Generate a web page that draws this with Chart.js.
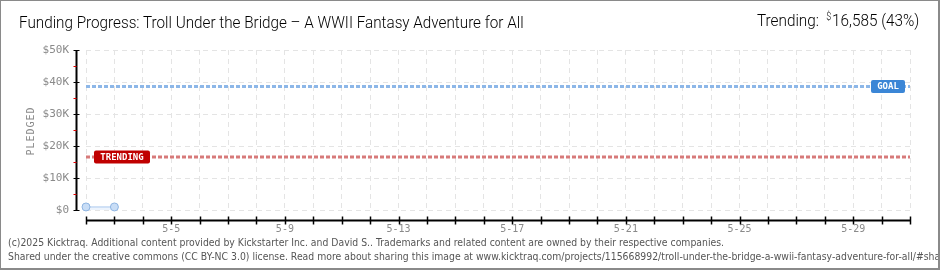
<!DOCTYPE html>
<html>
<head>
<meta charset="utf-8">
<script src="https://cdn.jsdelivr.net/npm/chart.js@4/dist/chart.umd.min.js"></script>
<style>
  html, body { margin: 0; padding: 0; background: #fff; }
  #frame { position: relative; width: 940px; height: 270px; box-sizing: border-box; border: 1px solid #8a8a8a; border-right-width: 2px; border-bottom-width: 2px; overflow: hidden; background: #fff; }
  #chart { position: absolute; left: -1px; top: -1px; }
  .title, .trend { position: absolute; font-family: Roboto, "DejaVu Sans", sans-serif; font-weight: 300; font-size: 17px; color: #000; white-space: nowrap; transform-origin: 0 0; }
  .title { left: 18px; top: 11px; }
  .trend { left: 756px; top: 9px; }
  .trend sup { font-size: 10px; vertical-align: 6px; margin-left: 8px; margin-right: 1px; }
  .foot { position: absolute; left: 7px; font-family: "DejaVu Sans", sans-serif; font-size: 10px; color: #555; white-space: nowrap; transform-origin: 0 0; }
</style>
</head>
<body>
<div id="frame">
  <canvas id="chart" width="940" height="270"></canvas>
  <div class="title" data-w="505">Funding Progress: Troll Under the Bridge – A WWII Fantasy Adventure for All</div>
  <div class="trend" data-w="162">Trending:<sup>$</sup>16,585 (43%)</div>
  <div class="foot" data-w="716" style="top:236px">(c)2025 Kicktraq. Additional content provided by Kickstarter Inc. and David S.. Trademarks and related content are owned by their respective companies.</div>
  <div class="foot" data-ref="716" style="top:250px">Shared under the creative commons (CC BY-NC 3.0) license. Read more about sharing this image at www.kicktraq.com/projects/115668992/troll-under-the-bridge-a-wwii-fantasy-adventure-for-all/#sharing</div>
</div>
<script>
// Campaign days in May and the amount pledged on each
const days = [2, 3];
const pledged = [950, 950];

// Reference levels
const goalAmount = 38600;
const trendingAmount = 16585;

// Axis extents and labelled dates
const dayRange = [2, 31];
const labeledDays = [5, 9, 13, 17, 21, 25, 29];
const yMax = 50000;
const yStep = 10000;

// Squeeze header and footer text to their set widths
let footScale = 1;
document.querySelectorAll('[data-w]').forEach(el => {
  const s = parseFloat(el.dataset.w) / el.scrollWidth;
  el.style.transform = 'scaleX(' + s + ')';
  if (el.classList.contains('foot')) footScale = s;
});
document.querySelectorAll('[data-ref]').forEach(el => {
  el.style.transform = 'scaleX(' + footScale + ')';
});

const axesPlugin = {
  id: 'kickAxes',
  afterDraw(chart) {
    const { ctx, scales: { x, y } } = chart;
    ctx.save();
    // y axis, offset left of the plot
    const ax = Math.round(x.left) - 10 + 0.5;
    ctx.strokeStyle = '#000';
    ctx.lineWidth = 2;
    ctx.beginPath();
    ctx.moveTo(ax, y.getPixelForValue(yMax));
    ctx.lineTo(ax, y.getPixelForValue(0) + 1);
    ctx.stroke();
    ctx.lineWidth = 1;
    y.ticks.forEach(t => {
      const py = Math.round(y.getPixelForValue(t.value)) + 0.5;
      ctx.strokeStyle = '#000';
      ctx.beginPath(); ctx.moveTo(ax - 3, py); ctx.lineTo(ax + 3, py); ctx.stroke();
      if (t.value < yMax) {
        const my = Math.round(y.getPixelForValue(t.value + yStep / 2)) + 0.5;
        ctx.strokeStyle = '#e00000';
        ctx.beginPath(); ctx.moveTo(ax - 3, my); ctx.lineTo(ax, my); ctx.stroke();
      }
    });
    // x axis, offset below the plot
    const ay = Math.round(y.bottom) + 10 + 0.5;
    ctx.strokeStyle = '#000';
    ctx.lineWidth = 2;
    ctx.beginPath(); ctx.moveTo(x.left, ay); ctx.lineTo(x.right + 1, ay); ctx.stroke();
    ctx.lineWidth = 1.5;
    x.ticks.forEach(t => {
      const px = Math.round(x.getPixelForValue(t.value)) + 0.5;
      ctx.beginPath(); ctx.moveTo(px, ay - 4); ctx.lineTo(px, ay + 4); ctx.stroke();
    });
    // rotated axis title
    ctx.fillStyle = '#8a8a8a';
    ctx.font = '10px "DejaVu Sans Mono"';
    ctx.translate(31, (y.top + y.bottom) / 2 + 1);
    ctx.rotate(-Math.PI / 2);
    ctx.textAlign = 'center';
    ctx.textBaseline = 'middle';
    if ('letterSpacing' in ctx) ctx.letterSpacing = '1px';
    ctx.fillText('PLEDGED', 0, 0);
    ctx.restore();

    // level tags
    const tag = (text, color, left, right, value) => {
      const py = y.getPixelForValue(value);
      ctx.save();
      ctx.font = 'bold 9px "DejaVu Sans Mono"';
      ctx.fillStyle = color;
      const h = 13;
      ctx.beginPath();
      ctx.roundRect(left, py - h / 2, right - left, h, 2);
      ctx.fill();
      ctx.fillStyle = '#fff';
      ctx.textAlign = 'center';
      ctx.textBaseline = 'middle';
      ctx.fillText(text, (left + right) / 2, py + 0.5);
      ctx.restore();
    };
    tag('GOAL', '#3b86d6', x.right - 39, x.right - 5, goalAmount);
    tag('TRENDING', '#c00000', x.left + 8, x.left + 64, trendingAmount);
  }
};

new Chart(document.getElementById('chart'), {
  type: 'line',
  data: {
    datasets: [
      {
        label: 'Goal',
        data: [{ x: dayRange[0], y: goalAmount }, { x: dayRange[1], y: goalAmount }],
        borderColor: '#8db7e8',
        borderWidth: 3,
        borderDash: [4, 2],
        pointRadius: 0,
        fill: false
      },
      {
        label: 'Trending',
        data: [{ x: dayRange[0], y: trendingAmount }, { x: dayRange[1], y: trendingAmount }],
        borderColor: '#d77a7a',
        borderWidth: 3,
        borderDash: [4, 2],
        pointRadius: 0,
        fill: false
      },
      {
        label: 'Pledged',
        data: days.map((d, i) => ({ x: d, y: pledged[i] })),
        clip: false,
        borderColor: '#a9c9ee',
        borderWidth: 1,
        backgroundColor: 'rgba(214,230,250,0.45)',
        fill: 'origin',
        pointRadius: 4,
        pointBackgroundColor: '#c8ddf6',
        pointBorderColor: '#8fb5e2',
        pointBorderWidth: 1
      }
    ]
  },
  options: {
    responsive: false,
    devicePixelRatio: 1,
    animation: false,
    layout: { padding: { left: 0, right: 30, top: 50, bottom: 0 } },
    plugins: { legend: { display: false }, tooltip: { enabled: false } },
    scales: {
      x: {
        type: 'linear',
        min: dayRange[0],
        max: dayRange[1],
        afterFit(scale) { scale.height = 60; },
        ticks: {
          stepSize: 1,
          autoSkip: false,
          maxRotation: 0,
          padding: 13,
          color: '#8a8a8a',
          font: { family: "DejaVu Sans Mono", size: 10 },
          callback: v => labeledDays.includes(v) ? '5-' + v : ''
        },
        grid: { color: '#e4e4e4', drawTicks: false },
        border: { display: false, dash: [5, 4] }
      },
      y: {
        min: 0,
        max: yMax,
        afterFit(scale) { scale.width = 86; },
        ticks: {
          stepSize: yStep,
          padding: 17,
          color: '#8a8a8a',
          font: { family: "DejaVu Sans Mono", size: 11 },
          callback: v => '$' + (v === 0 ? '0' : (v / 1000) + 'K')
        },
        grid: { color: '#e4e4e4', drawTicks: false },
        border: { display: false, dash: [5, 4] }
      }
    }
  },
  plugins: [axesPlugin]
});
</script>
</body>
</html>
